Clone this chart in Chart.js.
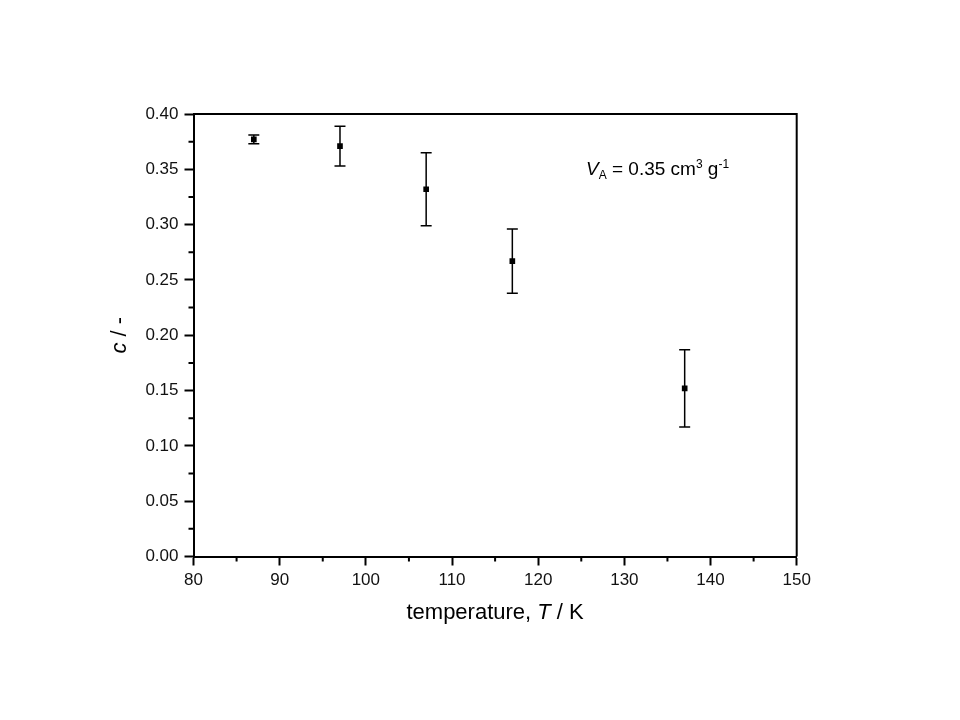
<!DOCTYPE html>
<html><head><meta charset="utf-8">
<script src="https://cdn.jsdelivr.net/npm/chart.js@4.4.0/dist/chart.umd.min.js"></script>
<style>html,body{margin:0;padding:0;background:#fff;} #wrap{width:960px;height:720px;position:relative;}</style>
</head><body><div id="wrap"><canvas id="c"></canvas></div>
<script>
// ---- data ----
const temperatures = [87, 97, 107, 117, 137];
const cValues = [0.377, 0.371, 0.332, 0.267, 0.152];
const cErrors = [0.004, 0.018, 0.033, 0.029, 0.035];
const xTickValues = [80, 90, 100, 110, 120, 130, 140, 150];
const yTickValues = [0.00, 0.05, 0.10, 0.15, 0.20, 0.25, 0.30, 0.35, 0.40];
const xMinorTicks = [85, 95, 105, 115, 125, 135, 145];
const yMinorTicks = [0.025, 0.075, 0.125, 0.175, 0.225, 0.275, 0.325, 0.375];

const FONT = '"Liberation Sans", Arial, sans-serif';

function drawSegments(ctx, segs, x, y, align) {
  // segs: [text, size, italic, dy]
  let total = 0;
  segs.forEach(s => { ctx.font = (s[2] ? 'italic ' : '') + s[1] + 'px ' + FONT; total += ctx.measureText(s[0]).width; });
  let cx = align === 'center' ? x - total / 2 : x;
  segs.forEach(s => {
    ctx.font = (s[2] ? 'italic ' : '') + s[1] + 'px ' + FONT;
    ctx.fillText(s[0], cx, y + (s[3] || 0));
    cx += ctx.measureText(s[0]).width;
  });
}

const errorBars = {
  id: 'errorBars',
  beforeDatasetsDraw(chart) {
    const { ctx, scales: { x, y } } = chart;
    ctx.save();
    ctx.strokeStyle = '#000';
    ctx.lineWidth = 1.5;
    temperatures.forEach((t, i) => {
      const px = x.getPixelForValue(t);
      const top = y.getPixelForValue(cValues[i] + cErrors[i]);
      const bot = y.getPixelForValue(cValues[i] - cErrors[i]);
      ctx.beginPath();
      ctx.moveTo(px, top); ctx.lineTo(px, bot);
      ctx.moveTo(px - 5.5, top); ctx.lineTo(px + 5.5, top);
      ctx.moveTo(px - 5.5, bot); ctx.lineTo(px + 5.5, bot);
      ctx.stroke();
    });
    ctx.restore();
  }
};

const frameAndText = {
  id: 'frameAndText',
  afterDraw(chart) {
    const { ctx, chartArea: a, scales: { x, y } } = chart;
    ctx.save();
    ctx.strokeStyle = '#000';
    ctx.lineWidth = 2;
    // top and right frame lines
    ctx.beginPath();
    ctx.moveTo(a.left, a.top); ctx.lineTo(a.right, a.top); ctx.lineTo(a.right, a.bottom);
    ctx.stroke();
    // minor ticks
    ctx.beginPath();
    xMinorTicks.forEach(v => { const px = x.getPixelForValue(v); ctx.moveTo(px, a.bottom); ctx.lineTo(px, a.bottom + 5); });
    yMinorTicks.forEach(v => { const py = y.getPixelForValue(v); ctx.moveTo(a.left, py); ctx.lineTo(a.left - 5, py); });
    ctx.stroke();
    // titles
    ctx.fillStyle = '#000';
    ctx.textBaseline = 'alphabetic';
    ctx.textAlign = 'left';
    drawSegments(ctx, [['temperature, ', 22, false], ['T', 22, true], [' / K', 22, false]], (a.left + a.right) / 2, 619, 'center');
    ctx.save();
    ctx.translate(126, (a.top + a.bottom) / 2);
    ctx.rotate(-Math.PI / 2);
    drawSegments(ctx, [['c', 22, true], [' / -', 22, false]], 0, 0, 'center');
    ctx.restore();
    // annotation
    drawSegments(ctx, [
      ['V', 19, true], ['A', 12, false, 4], [' = 0.35 cm', 19, false], ['3', 12, false, -7],
      [' g', 19, false], ['-1', 12, false, -7]
    ], 586, 175, 'left');
    ctx.restore();
  }
};

new Chart(document.getElementById('c'), {
  type: 'scatter',
  data: {
    datasets: [{
      data: temperatures.map((t, i) => ({ x: t, y: cValues[i] })),
      pointStyle: 'rect',
      pointRadius: 4,
      pointHoverRadius: 4,
      backgroundColor: '#000',
      borderColor: '#000',
      borderWidth: 0,
      showLine: false
    }]
  },
  options: {
    responsive: true,
    maintainAspectRatio: false,
    animation: false,
    devicePixelRatio: 1,
    layout: { padding: { left: 133.5, right: 163.3, top: 114, bottom: 123.5 } },
    plugins: { legend: { display: false }, tooltip: { enabled: false } },
    scales: {
      x: {
        type: 'linear', min: 80, max: 150,
        afterBuildTicks: s => { s.ticks = xTickValues.map(v => ({ value: v })); },
        afterFit: s => { s.height = 40; },
        ticks: { color: '#111', font: { family: FONT, size: 17 }, padding: 5, maxRotation: 0, callback: v => String(v) },
        grid: { drawOnChartArea: false, drawTicks: true, tickLength: 9, tickWidth: 2, tickColor: '#000' },
        border: { display: true, color: '#000', width: 2 }
      },
      y: {
        type: 'linear', min: 0, max: 0.4,
        afterBuildTicks: s => { s.ticks = yTickValues.map(v => ({ value: v })); },
        afterFit: s => { s.width = 60; },
        ticks: { color: '#111', font: { family: FONT, size: 17 }, padding: 6, callback: v => Number(v).toFixed(2) },
        grid: { drawOnChartArea: false, drawTicks: true, tickLength: 9, tickWidth: 2, tickColor: '#000' },
        border: { display: true, color: '#000', width: 2 }
      }
    }
  },
  plugins: [errorBars, frameAndText]
});
</script>
</body></html>
